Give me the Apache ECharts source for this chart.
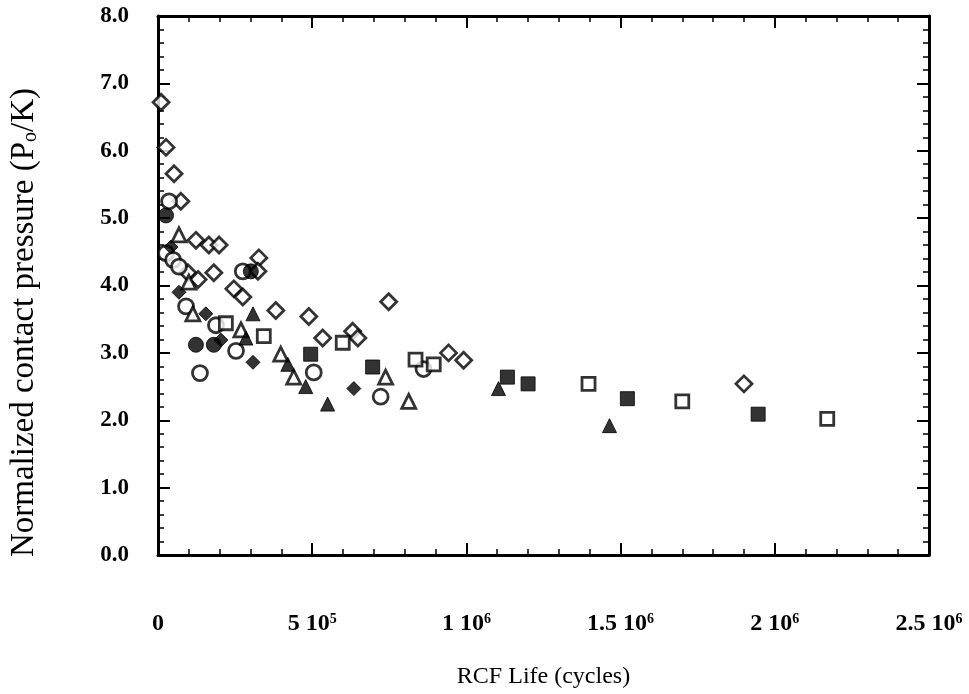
<!DOCTYPE html>
<html>
<head>
<meta charset="utf-8">
<script src="https://cdn.jsdelivr.net/npm/echarts@6/dist/echarts.min.js"></script>
<style>html,body{margin:0;padding:0;background:#fff}#c{width:969px;height:694px}</style>
</head>
<body>
<div id="c"></div>
<script>
// Data: [cycles, normalized contact pressure]
const openDiamond = [[1.0e4,6.72],[2.6e4,6.05],[5.2e4,5.66],[7.4e4,5.25],[1.23e5,4.67],[1.65e5,4.60],[1.98e5,4.60],
  [9.7e4,4.19],[1.3e5,4.09],[1.81e5,4.19],[3.27e5,4.41],[3.24e5,4.21],[2.46e5,3.95],[2.75e5,3.83],[3.82e5,3.63],
  [4.89e5,3.54],[5.34e5,3.22],[6.31e5,3.32],[6.48e5,3.22],[7.48e5,3.76],[9.42e5,3.00],[9.91e5,2.89],[1.9e6,2.54]];
const openCircle = [[3.6e4,5.25],[2.6e4,4.48],[4.9e4,4.38],[6.8e4,4.28],[9.1e4,3.69],[1.88e5,3.41],[2.75e5,4.21],
  [2.53e5,3.03],[1.36e5,2.70],[5.05e5,2.71],[7.22e5,2.35],[8.61e5,2.76]];
const filledCircle = [[2.6e4,5.04],[3.01e5,4.21],[1.23e5,3.12],[1.81e5,3.12]];
const filledDiamond = [[4.2e4,4.57],[6.8e4,3.90],[1.55e5,3.58],[2.04e5,3.19],[3.08e5,2.86],[6.35e5,2.47]];
const openTriangle = [[6.8e4,4.75],[1.0e5,4.05],[1.13e5,3.58],[2.69e5,3.34],[3.98e5,2.98],[4.40e5,2.64],[7.38e5,2.64],[8.13e5,2.28]];
const filledTriangle = [[3.08e5,3.58],[2.85e5,3.22],[4.21e5,2.83],[4.79e5,2.50],[5.50e5,2.24],[1.104e6,2.47],[1.464e6,1.92]];
const openSquare = [[2.2e5,3.44],[3.43e5,3.25],[5.99e5,3.15],[8.35e5,2.90],[8.94e5,2.83],[1.396e6,2.54],[1.70e6,2.28],[2.17e6,2.02]];
const filledSquare = [[4.95e5,2.98],[6.96e5,2.79],[1.133e6,2.64],[1.20e6,2.54],[1.522e6,2.32],[1.946e6,2.09]];

const xTickLabels = {0:'0', 500000:'5 10{sup|5}', 1000000:'1 10{sup|6}', 1500000:'1.5 10{sup|6}', 2000000:'2 10{sup|6}', 2500000:'2.5 10{sup|6}'};
const yTitle = 'Normalized contact pressure (P{sub|o}/K)';
const xTitle = 'RCF Life (cycles)';

const serif = 'Liberation Serif';
const axisLine = {show:true, onZero:false, lineStyle:{color:'#000', width:3}};
const majorTick = {show:true, inside:true, length:12, lineStyle:{color:'#000', width:2}};
const minorTick = {show:true, splitNumber:5, length:6, lineStyle:{color:'#000', width:1.5}};

function mk(name, data, symbol, filled, size) {
  return {
    name, type:'scatter', data, symbol, symbolSize:size, xAxisIndex:0, yAxisIndex:0,
    itemStyle: filled ? {color:'#000', borderColor:'#000', borderWidth:1}
                      : {color:'#fff', borderColor:'#000', borderWidth:2.8},
    emphasis:{disabled:true}
  };
}

const chart = echarts.init(document.getElementById('c'), null, {renderer:'canvas'});
chart.setOption({
  animation:false,
  backgroundColor:'#fff',
  grid:{left:157, right:40, top:16, bottom:127, containLabel:false},
  xAxis:[{
    type:'value', min:0, max:2500000, interval:500000, position:'bottom',
    axisLine, axisTick:majorTick, minorTick, splitLine:{show:false},
    axisLabel:{margin:55, fontFamily:serif, fontWeight:'bold', fontSize:24, color:'#000', lineHeight:28,
      formatter:v => xTickLabels[v] ?? '',
      rich:{sup:{fontFamily:serif, fontWeight:'bold', fontSize:14, color:'#000', verticalAlign:'bottom', padding:[0,0,12,0]}}},
    name:xTitle, nameLocation:'middle', nameGap:110,
    nameTextStyle:{fontFamily:serif, fontSize:24, color:'#000'}
  },{
    type:'value', min:0, max:2500000, interval:500000, position:'top',
    axisLine, axisTick:majorTick, minorTick, splitLine:{show:false}, axisLabel:{show:false}
  }],
  yAxis:[{
    type:'value', min:0, max:8, interval:1, position:'left',
    axisLine, axisTick:majorTick, minorTick, splitLine:{show:false},
    axisLabel:{margin:29, fontFamily:serif, fontWeight:'bold', fontSize:23, color:'#000',
      formatter:v => v.toFixed(1)},
    name:yTitle, nameLocation:'middle', nameGap:117, nameRotate:90,
    nameTextStyle:{fontFamily:serif, fontSize:33, color:'#000', padding:[0,74,0,0],
      rich:{sub:{fontFamily:serif, fontSize:20, color:'#000', verticalAlign:'bottom', padding:[8,0,0,0]}}}
  },{
    type:'value', min:0, max:8, interval:1, position:'right',
    axisLine, axisTick:majorTick, minorTick, splitLine:{show:false}, axisLabel:{show:false}
  }],
  series:[
    mk('openDiamond', openDiamond, 'diamond', false, 16),
    mk('openCircle', openCircle, 'circle', false, 15),
    mk('openTriangle', openTriangle, 'triangle', false, 14),
    mk('openSquare', openSquare, 'rect', false, 13),
    mk('filledCircle', filledCircle, 'circle', true, 15),
    mk('filledDiamond', filledDiamond, 'diamond', true, 14),
    mk('filledTriangle', filledTriangle, 'triangle', true, 14),
    mk('filledSquare', filledSquare, 'rect', true, 14)
  ]
});
</script>
</body>
</html>
